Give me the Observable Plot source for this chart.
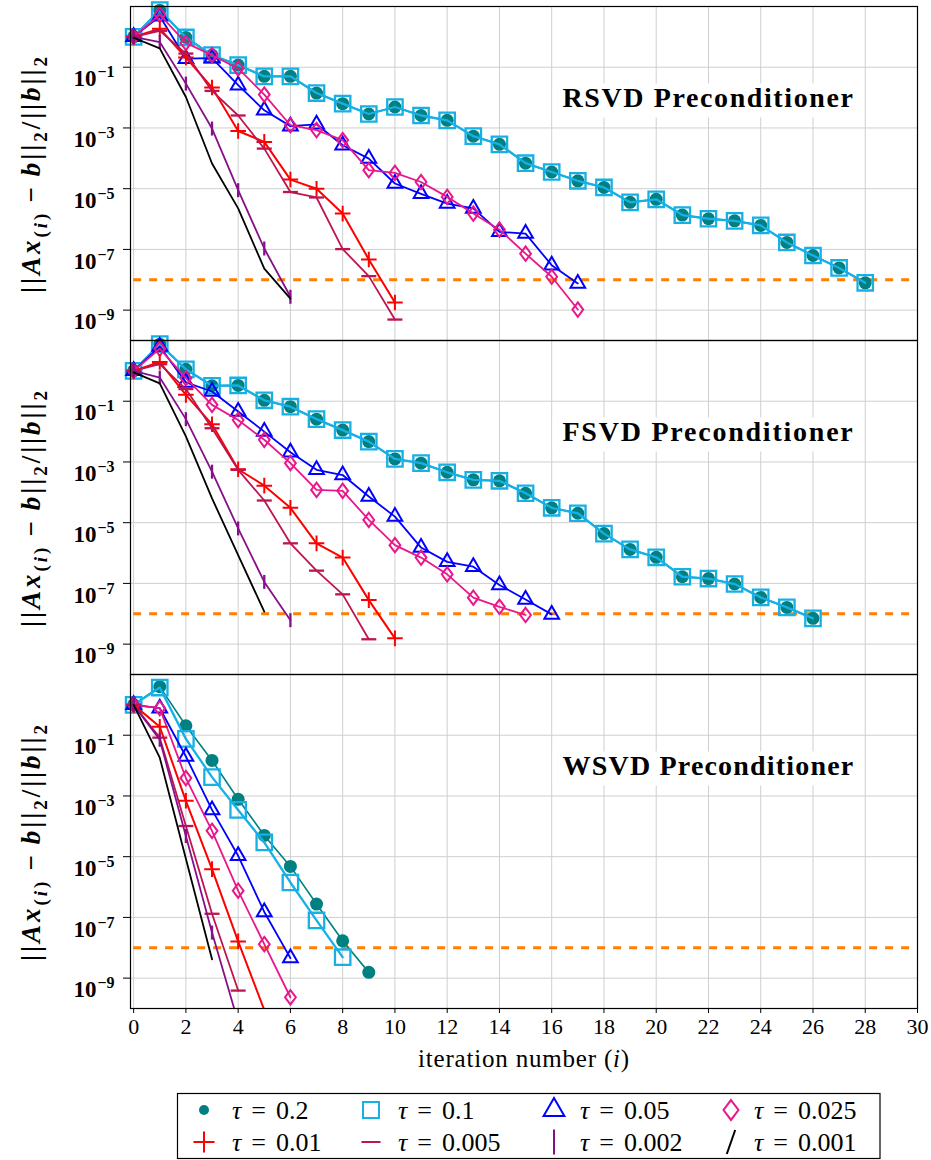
<!DOCTYPE html>
<html><head><meta charset="utf-8">
<script src="https://cdn.jsdelivr.net/npm/d3@7"></script>
<script src="https://cdn.jsdelivr.net/npm/@observablehq/plot@0.6"></script>
<style>
html,body{margin:0;padding:0;background:#fff;}
#chart{width:931px;}
svg{display:block;}
</style></head><body><div id="chart"></div>
<script>
// ---------------- data (log10 of relative residual, index = iteration i) ----------------
const panelNames = ["RSVD Preconditioner", "FSVD Preconditioner", "WSVD Preconditioner"];
const tauLabels = ["0.2", "0.1", "0.05", "0.025", "0.01", "0.005", "0.002", "0.001"];

const rsvd = [
  [0.0, 0.88, -0.02, -0.60, -0.93, -1.30, -1.30, -1.85, -2.20, -2.54, -2.31, -2.59, -2.75, -3.27, -3.54, -4.16, -4.45, -4.74, -4.96, -5.45, -5.35, -5.87, -5.99, -6.06, -6.21, -6.77, -7.20, -7.61, -8.10],
  [0.0, 0.88, -0.02, -0.60, -0.93, -1.30, -1.30, -1.85, -2.20, -2.54, -2.31, -2.59, -2.75, -3.27, -3.54, -4.16, -4.45, -4.74, -4.96, -5.45, -5.35, -5.87, -5.99, -6.06, -6.21, -6.77, -7.20, -7.61, -8.10],
  [0.0, 0.68, -0.72, -0.70, -1.59, -2.42, -2.94, -2.88, -3.57, -4.01, -4.83, -5.17, -5.49, -5.65, -6.42, -6.48, -7.52, -8.12],
  [0.0, 0.73, -0.20, -0.60, -1.04, -1.90, -2.91, -3.07, -3.40, -4.39, -4.48, -4.78, -5.27, -5.82, -6.35, -7.14, -7.90, -8.98],
  [0.0, 0.27, -0.68, -1.67, -3.10, -3.46, -4.70, -5.00, -5.82, -7.33, -8.75],
  [0.0, 0.20, -0.55, -1.78, -2.59, -3.68, -5.11, -5.29, -6.99, -7.88, -9.31],
  [0.0, -0.17, -1.54, -3.02, -5.05, -6.97, -8.56],
  [-0.03, -0.38, -1.98, -4.17, -5.65, -7.63, -8.62]
];
const fsvd = [
  [0.0, 0.88, 0.05, -0.49, -0.48, -0.97, -1.18, -1.59, -1.95, -2.33, -2.90, -3.04, -3.34, -3.59, -3.62, -4.03, -4.51, -4.69, -5.36, -5.88, -6.14, -6.78, -6.84, -7.02, -7.46, -7.79, -8.15],
  [0.0, 0.88, 0.05, -0.49, -0.48, -0.97, -1.18, -1.59, -1.95, -2.33, -2.90, -3.04, -3.34, -3.59, -3.62, -4.03, -4.51, -4.69, -5.36, -5.88, -6.14, -6.78, -6.84, -7.02, -7.46, -7.79, -8.15],
  [0.0, 0.80, -0.38, -0.68, -1.34, -2.00, -2.68, -3.26, -3.43, -4.14, -4.80, -5.82, -6.29, -6.45, -7.05, -7.53, -8.02],
  [0.0, 0.73, -0.24, -1.12, -1.62, -2.27, -3.04, -3.92, -3.95, -4.91, -5.74, -6.15, -6.70, -7.47, -7.77, -8.04],
  [0.0, 0.29, -0.79, -1.76, -3.24, -3.78, -4.51, -5.68, -6.15, -7.55, -8.81],
  [0.0, 0.22, -0.60, -1.89, -3.26, -4.27, -5.68, -6.58, -7.36, -8.84],
  [0.0, -0.22, -1.59, -3.32, -5.19, -6.95, -8.21],
  [-0.05, -0.41, -2.16, -4.20, -6.07, -7.93]
];
const wsvd = [
  [0.0, 0.60, -0.69, -1.83, -3.11, -4.30, -5.32, -6.56, -7.77, -8.81],
  [0.0, 0.57, -1.12, -2.38, -3.46, -4.53, -5.85, -7.10, -8.31],
  [0.0, -0.11, -1.70, -3.46, -4.97, -6.82, -8.34],
  [0.0, -0.11, -2.41, -4.15, -6.12, -7.88, -9.63],
  [0.0, -0.72, -3.16, -5.41, -7.79, -10.05],
  [0.0, -1.08, -3.99, -6.88, -9.41],
  [0.0, -1.15, -4.32, -7.50, -10.45],
  [0.0, -1.74, -5.07, -8.38]
];
const toleranceLog10 = -8;
const xTicks = [0, 2, 4, 6, 8, 10, 12, 14, 16, 18, 20, 22, 24, 26, 28, 30];
const yTickExponents = [-1, -3, -5, -7, -9];
const yDomain = [-10, 1];
const xDomain = [-0.12, 30];
const xLabelText = "iteration number (i)";
const yLabelText = "||Ax(i) − b||2/||b||2";

// ---------------- styles ----------------
const FONT = "Liberation Serif";
function sz(size) { return Math.sqrt(size / Math.PI); }
const symbols = {
  circle: d3.symbolCircle,
  square: {draw(c, size) { const s = sz(size); c.rect(-s, -s, 2 * s, 2 * s); }},
  triangle: {draw(c, size) { const s = sz(size); c.moveTo(0, -s); c.lineTo(s * 0.866, s * 0.5); c.lineTo(-s * 0.866, s * 0.5); c.closePath(); }},
  diamond: {draw(c, size) { const s = sz(size); c.moveTo(0, -1.2 * s); c.lineTo(0.9 * s, 0); c.lineTo(0, 1.2 * s); c.lineTo(-0.9 * s, 0); c.closePath(); }},
  plus: {draw(c, size) { const s = sz(size); c.moveTo(-s, 0); c.lineTo(s, 0); c.moveTo(0, -s); c.lineTo(0, s); }},
  hbar: {draw(c, size) { const s = sz(size); c.moveTo(-s, 0); c.lineTo(s, 0); }},
  vbar: {draw(c, size) { const s = sz(size); c.moveTo(0, -s); c.lineTo(0, s); }},
  slash: {draw(c, size) { const s = sz(size); c.moveTo(-0.35 * s, s); c.lineTo(0.35 * s, -s); }}
};
const seriesStyle = [
  {color: "#008080", symbol: "circle", r: 6.5, filled: true, lw: 1.6, mw: 0, lr: 5},
  {color: "#16b0e6", symbol: "square", r: 7.7, lw: 2.3, mw: 2.3, lr: 8},
  {color: "#0000ff", symbol: "triangle", r: 8.5, lw: 1.8, mw: 2, lr: 12},
  {color: "#e9178b", symbol: "diamond", r: 6, lw: 1.8, mw: 2, lr: 8.3},
  {color: "#ff0000", symbol: "plus", r: 7.8, lw: 2, mw: 2, lr: 10.5},
  {color: "#be1450", symbol: "hbar", r: 7.5, lw: 1.8, mw: 2.3, lr: 9.5},
  {color: "#86108a", symbol: "vbar", r: 7, lw: 1.8, mw: 2.3, lr: 12.5},
  {color: "#000000", symbol: "slash", r: 0, lw: 1.8, mw: 2, lr: 12}
];

// ---------------- table ----------------
const rows = [];
[rsvd, fsvd, wsvd].forEach((panel, p) =>
  panel.forEach((series, s) =>
    series.forEach((v, i) => rows.push({panel: panelNames[p], tau: tauLabels[s], i, v}))));
const firstOfPanel = d => d.tau === tauLabels[0] && d.i === 0;

// ---------------- marks ----------------
const marks = [
  Plot.ruleX(xTicks, {stroke: "#cfcfcf", strokeWidth: 1}),
  Plot.ruleY(yTickExponents, {stroke: "#cfcfcf", strokeWidth: 1}),
  Plot.ruleY([toleranceLog10], {x1: xTicks[0], x2: xTicks[xTicks.length - 1], stroke: "#ff7f00", strokeWidth: 3.2, strokeDasharray: "8,8"})
];
tauLabels.forEach((t, s) => {
  const st = seriesStyle[s];
  marks.push(Plot.line(rows, {filter: d => d.tau === t, x: "i", y: "v", stroke: st.color, strokeWidth: st.lw, clip: true}));
  if (st.r > 0) {
    marks.push(Plot.dot(rows, {
      filter: d => d.tau === t && d.v >= yDomain[0], x: "i", y: "v",
      symbol: symbols[st.symbol], r: st.r,
      fill: st.filled ? st.color : "none", stroke: st.filled ? "none" : st.color,
      strokeWidth: st.mw
    }));
  }
});
marks.push(Plot.frame({stroke: "#000", strokeWidth: 1.2}));
marks.push(Plot.text(rows, {filter: firstOfPanel, text: () => yLabelText, frameAnchor: "left", rotate: -90, dx: -99, fontWeight: "bold", fontSize: 27}));
marks.push(Plot.text(rows, {filter: d => firstOfPanel(d) && d.panel === panelNames[2], text: () => xLabelText, frameAnchor: "bottom", lineAnchor: "middle", dy: 50, fontSize: 25}));
marks.push(Plot.text(rows, {filter: firstOfPanel, text: "panel", frameAnchor: "top-right", textAnchor: "middle", lineAnchor: "middle", dx: -209, dy: 92, fontWeight: "bold", fontSize: 28}));

const chart = Plot.plot({
  width: 931, height: 1080,
  marginLeft: 130, marginRight: 14, marginTop: 6, marginBottom: 72,
  facet: {data: rows, y: "panel"},
  fy: {domain: panelNames, padding: 0, axis: null, label: null},
  x: {domain: xDomain, ticks: xTicks, tickSize: 5, tickPadding: 5, label: null},
  y: {domain: yDomain, ticks: yTickExponents, tickFormat: d => "10^" + d, tickSize: 7, tickPadding: 9, label: null},
  style: {fontFamily: FONT, fontSize: "22px", background: "white", overflow: "visible"},
  marks
});
document.getElementById("chart").appendChild(chart);

// ---------------- rich text post-processing ----------------
function setRich(node, parts, opt) {
  const t = d3.select(node);
  t.text(null);
  let shift = 0;
  for (const p of parts) {
    const target = p.sub ? opt.subShift : p.sup ? -opt.supShift : 0;
    const ts = t.append("tspan").text(p.t);
    if (target !== shift) ts.attr("dy", target - shift);
    shift = target;
    if (p.it) ts.attr("font-style", "italic");
    if (p.sub || p.sup) ts.attr("font-size", opt.small);
    if (p.size) ts.attr("font-size", p.size);
    if (p.dx) ts.attr("dx", p.dx);
  }
}
// widen a text toward a target length with modest letter spacing, then center it on its anchor
function fitAndCenter(node, target, center) {
  const n = Math.max(1, node.getNumberOfChars());
  const w = node.getBBox().width;
  if (w > 0 && w < target) node.setAttribute("letter-spacing", Math.min(3, (target - w) / n).toFixed(2));
  if (center) {
    const b = node.getBBox();
    const x0 = parseFloat(node.getAttribute("x")) || 0;
    node.setAttribute("x", (x0 - (b.x + b.width / 2 - x0)).toFixed(2));
  }
}
const svg = chart.tagName.toLowerCase() === "svg" ? chart : chart.querySelector("svg");
svg.querySelectorAll("text").forEach(node => {
  const s = node.textContent;
  const m = /^10\^(-?\d+)$/.exec(s);
  if (m) {
    node.setAttribute("font-weight", "bold");
    setRich(node, [{t: "10", size: 23}, {t: m[1].replace("-", "−"), sup: true, dx: 1}], {supShift: 9, small: 16});
    node.setAttribute("dy", "0.55em");
  } else if (s === yLabelText) {
    setRich(node, [
      {t: "||"}, {t: "Ax", it: true}, {t: "(", sub: true}, {t: "i", sub: true, it: true}, {t: ")", sub: true},
      {t: "−", dx: 8}, {t: "b", it: true, dx: 8}, {t: "||"}, {t: "2", sub: true}, {t: "/||"}, {t: "b", it: true}, {t: "||"}, {t: "2", sub: true}
    ], {subShift: 7, small: 19});
    node.setAttribute("text-anchor", "start");
    fitAndCenter(node, 262, true);
  } else if (s === xLabelText) {
    setRich(node, [{t: "iteration number ("}, {t: "i", it: true}, {t: ")"}], {});
    fitAndCenter(node, 212, false);
  } else if (panelNames.includes(s)) {
    fitAndCenter(node, 292, false);
    const b = node.getBBox();
    const rect = document.createElementNS("http://www.w3.org/2000/svg", "rect");
    rect.setAttribute("x", b.x - 10);
    rect.setAttribute("y", b.y + 1);
    rect.setAttribute("width", b.width + 18);
    rect.setAttribute("height", b.height + 3);
    rect.setAttribute("fill", "white");
    if (node.getAttribute("transform")) rect.setAttribute("transform", node.getAttribute("transform"));
    node.parentNode.insertBefore(rect, node);
  }
});

// ---------------- legend ----------------
const leg = d3.select("#chart").append("svg").attr("width", 931).attr("height", 80)
  .attr("font-family", FONT).attr("font-size", 26);
leg.append("rect").attr("x", 177.5).attr("y", 13.5).attr("width", 702.5).attr("height", 65)
  .attr("fill", "white").attr("stroke", "#000").attr("stroke-width", 1.2);
const legMarkerX = [204, 371, 554, 731];
const legTextX = [232, 398, 580, 754];
const legRowY = [30, 62];
tauLabels.forEach((t, s) => {
  const st = seriesStyle[s];
  const col = s % 4, row = Math.floor(s / 4);
  const g = leg.append("g").attr("transform", `translate(${legMarkerX[col]},${legRowY[row]})`);
  g.append("path").attr("d", d3.symbol().type(symbols[st.symbol]).size(Math.PI * st.lr * st.lr)())
    .attr("fill", st.filled ? st.color : "none").attr("stroke", st.filled ? "none" : st.color)
    .attr("stroke-width", st.filled ? 0 : 2);
  const tx = leg.append("text").attr("x", legTextX[col]).attr("y", legRowY[row]).attr("dy", "0.35em");
  tx.append("tspan").attr("font-style", "italic").text("τ");
  tx.append("tspan").attr("dx", 10).text("=");
  tx.append("tspan").attr("dx", 10).text(t);
});
</script></body></html>
